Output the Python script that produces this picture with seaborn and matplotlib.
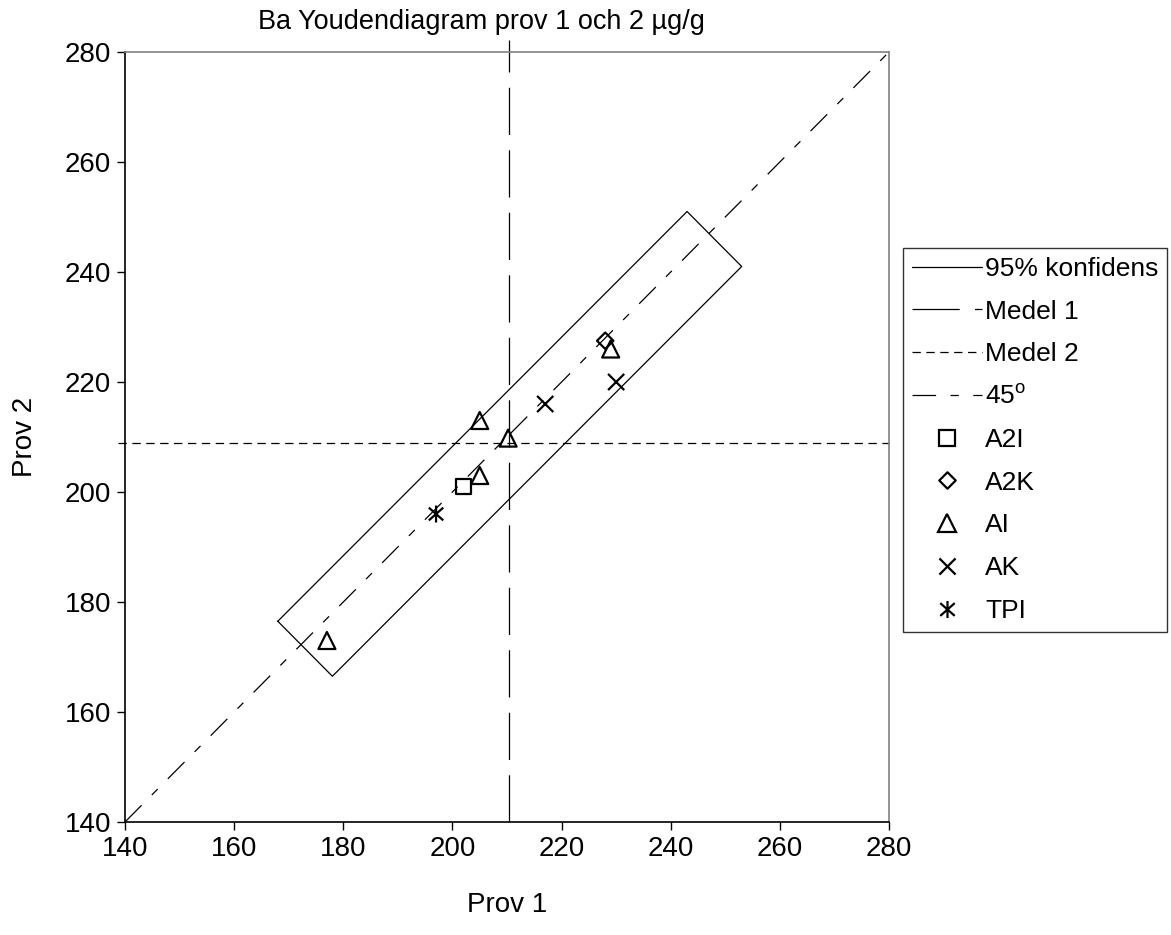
import numpy as np
import pandas as pd
import matplotlib
matplotlib.use("Agg")
import matplotlib.pyplot as plt
from matplotlib.path import Path
from matplotlib.lines import Line2D
import seaborn as sns

# ---------------- data ----------------
groups = ["A2I", "A2K", "AI", "AI", "AI", "AI", "AI", "AK", "AK", "TPI"]
prov1 = [202, 228, 177, 205, 205, 210.2, 229, 217, 230, 197]
prov2 = [201, 227.5, 173, 213, 203, 209.8, 226, 216, 220, 196]
group_names = ["A2I", "A2K", "AI", "AK", "TPI"]

medel1 = 210.4
medel2 = 208.9
medel1_y = [140, 282.2]
medel2_x = [138.7, 280]
rect_x = [168, 178, 253, 243, 168]
rect_y = [176.5, 166.5, 241, 251, 176.5]
line45_x = [140, 280]
line45_y = [140, 280]
ticks = [140, 160, 180, 200, 220, 240, 260, 280]

title = "Ba Youdendiagram prov 1 och 2 µg/g"
xlabel = "Prov 1"
ylabel = "Prov 2"
line_labels = ["95% konfidens", "Medel 1", "Medel 2", "45$^\\mathregular{o}$"]

# ---------------- style ----------------
sns.set_style("white")
plt.rcParams["font.family"] = ["Liberation Sans", "DejaVu Sans"]
plt.rcParams["lines.scale_dashes"] = False
plt.rcParams["mathtext.default"] = "regular"
plt.rcParams["text.color"] = "black"
plt.rcParams["axes.labelcolor"] = "black"

df = pd.DataFrame({"group": groups, "prov1": prov1, "prov2": prov2})

diamond = Path([(0, 1), (1, 0), (0, -1), (-1, 0), (0, 1)],
               [Path.MOVETO, Path.LINETO, Path.LINETO, Path.LINETO, Path.CLOSEPOLY])
xmark = Path([(-1, -1), (1, 1), (-1, 1), (1, -1)],
             [Path.MOVETO, Path.LINETO, Path.MOVETO, Path.LINETO])
star = Path([(-0.85, -0.75), (0.85, 0.75), (-0.85, 0.75), (0.85, -0.75), (0, -1), (0, 1)],
            [Path.MOVETO, Path.LINETO, Path.MOVETO, Path.LINETO, Path.MOVETO, Path.LINETO])
markers = {"A2I": "s", "A2K": diamond, "AI": "^", "AK": xmark, "TPI": star}
sizes = {"A2I": 120, "A2K": 140, "AI": 150, "AK": 135, "TPI": 150}

ls_m1 = (0, (34, 11))
ls_m2 = (0, (6, 4))
ls_45 = (0, (17, 10.4, 6, 10.4))

W, H = 1171, 935
fig = plt.figure(figsize=(W / 100, H / 100), dpi=100)
ax = fig.add_axes([125 / W, 1 - 822 / H, 764 / W, 770 / H])

lw = 0.9
sns.lineplot(x=rect_x, y=rect_y, sort=False, estimator=None, color="black",
             linewidth=lw, ax=ax)
sns.lineplot(x=[medel1, medel1], y=medel1_y, sort=False, estimator=None, color="black",
             linewidth=lw, linestyle=ls_m1, clip_on=False, ax=ax)
sns.lineplot(x=medel2_x, y=[medel2, medel2], sort=False, estimator=None, color="black",
             linewidth=lw, linestyle=ls_m2, clip_on=False, ax=ax)
sns.lineplot(x=line45_x, y=line45_y, sort=False, estimator=None, color="black",
             linewidth=lw, linestyle=ls_45, ax=ax)

for g in group_names:
    sub = df[df["group"] == g]
    sns.scatterplot(data=sub, x="prov1", y="prov2", marker=markers[g], s=sizes[g],
                    facecolor="none", edgecolor="black", linewidth=1.6,
                    ax=ax, legend=False, zorder=3)

ax.set_xlim(140, 280)
ax.set_ylim(140, 280)
ax.set_xticks(ticks)
ax.set_yticks(ticks)
ax.set_xlabel("")
ax.set_ylabel("")
ax.tick_params(direction="out", length=6, width=1, labelsize=20, pad=4,
               colors="black", bottom=True, left=True)
for side in ["left", "bottom"]:
    ax.spines[side].set_color("black")
    ax.spines[side].set_linewidth(1.2)
for side in ["top", "right"]:
    ax.spines[side].set_color("#808080")
    ax.spines[side].set_linewidth(1.2)

fig.text(258 / W, 1 - 22 / H, title, fontsize=19.5, ha="left", va="center",
         color="black")
fig.text(507 / W, 1 - 905 / H, xlabel, fontsize=20, ha="center", va="center",
         color="black")
fig.text(25 / W, 1 - 437 / H, ylabel, fontsize=20, ha="center", va="center",
         rotation=90, color="black")

handles = [
    Line2D([0], [0], color="black", lw=lw),
    Line2D([0], [0], color="black", lw=lw, linestyle=ls_m1),
    Line2D([0], [0], color="black", lw=lw, linestyle=ls_m2),
    Line2D([0], [0], color="black", lw=lw, linestyle=ls_45),
]
for g in group_names:
    handles.append(Line2D([0], [0], marker=markers[g], linestyle="None",
                          markersize=np.sqrt(sizes[g]), markerfacecolor="none",
                          markeredgecolor="black", markeredgewidth=1.6))
labels = line_labels + group_names
leg = fig.legend(handles, labels, loc="upper left",
                 bbox_to_anchor=(903 / W, 1 - 248 / H), bbox_transform=fig.transFigure,
                 frameon=True, fancybox=False, edgecolor="black", fontsize=19,
                 handlelength=2.65, handletextpad=0.12, labelspacing=0.71,
                 borderpad=0.34, borderaxespad=0)
leg.get_frame().set_linewidth(1.0)
for t in leg.get_texts():
    t.set_color("black")

fig.savefig("out.png", dpi=100)
